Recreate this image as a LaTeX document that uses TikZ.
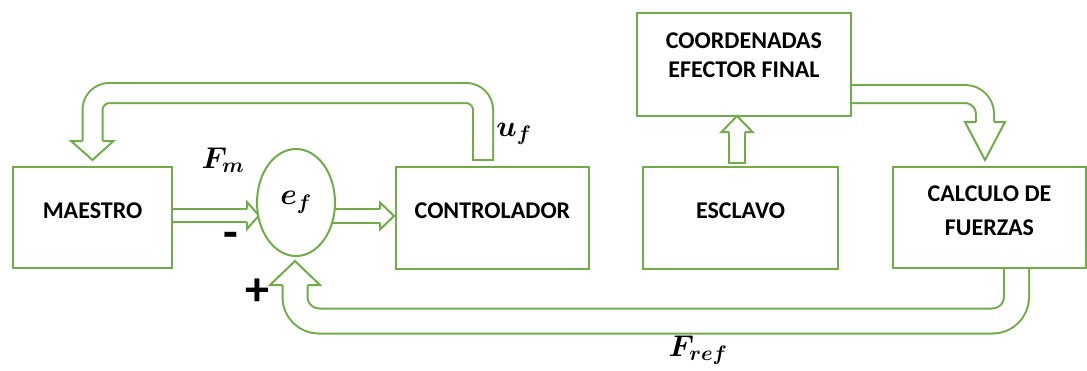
\RequirePackage{fix-cm}
\documentclass[tikz,border=0pt]{standalone}
\usepackage[no-math]{fontspec}
\setmainfont{Carlito}
\usepackage{amsmath,bm}
\usetikzlibrary{calc,shapes.geometric,backgrounds}
\definecolor{leaf}{HTML}{70AD47}

\tikzset{
  blk/.style={draw=leaf, line width=2pt, fill=white, align=center,
    font=\fontsize{24}{29}\selectfont\bfseries, text depth=14pt},
  sumnode/.style={ellipse, draw=leaf, line width=2pt, fill=white,
    font=\fontsize{30}{34}\selectfont, inner sep=0pt},
  mathlbl/.style={font=\fontsize{30}{34}\selectfont, inner sep=0pt},
  signlbl/.style={font=\fontsize{48}{50}\selectfont\bfseries, inner sep=0pt},
  shaft/.style={draw=leaf, line width=2pt, double=white, line cap=butt},
  headtip/.style={draw=leaf, fill=white, line width=2pt, line join=miter},
  tailcap/.style={draw=leaf, line width=2pt, line cap=rect},
}

\begin{document}
\begin{tikzpicture}[x=1pt, y=-1pt]
\useasboundingbox (0,0) rectangle (1087,370);

% blocks
\node[blk, minimum width=159pt, minimum height=101pt] (maestro) at (92.5,217.5) {MAESTRO};
\node[sumnode, minimum width=78pt, minimum height=107pt] (ef) at (296,202.5) {$\bm{e_f}$};
\node[blk, minimum width=193pt, minimum height=102pt] (ctrl) at (492.5,217.5) {CONTROLADOR};
\node[blk, minimum width=195pt, minimum height=102pt] (slave) at (740.5,218) {ESCLAVO};
\node[blk, minimum width=214pt, minimum height=103pt, text depth=19pt] (coord) at (744,64.5) {COORDENADAS\\EFECTOR FINAL};
\node[blk, minimum width=193pt, minimum height=101pt, text depth=13pt,
      font=\fontsize{24}{34}\selectfont\bfseries] (forces) at (989.5,217.5) {CALCULO DE\\FUERZAS};

% signal labels
\node[mathlbl] (fm) at (223,160) {$\bm{F_m}$};
\node[mathlbl] (uf) at (514,134) {$\bm{u_f}$};
\node[mathlbl] (fref) at (698,350) {$\bm{F_{ref}}$};
\node[signlbl] (minus) at (231,240) {-};
\node[signlbl] (plus) at (257,292) {+};

% reference points of the hollow arrows
\coordinate (a1t) at ($(maestro.east)+(0,-2)$);
\coordinate (a2h) at ($(ctrl.west)+(-1,-1.5)$);
\coordinate (a3t) at ($(ctrl.north)+(-9.5,-5.5)$);
\coordinate (a3h) at ($(maestro.north)+(0,-6)$);
\coordinate (a3c) at ($(a3t)+(0,-67)$);
\coordinate (a4h) at ($(coord.south)+(-7,-1)$);
\coordinate (a4t) at ($(a4h)+(0,47)$);
\coordinate (a5t) at ($(coord.east)+(0,29.5)$);
\coordinate (a5h) at ($(forces.north)+(-4.5,-6)$);
\coordinate (a6t) at ($(forces.south)+(27,0)$);
\coordinate (a6h) at ($(ef.south)+(-1,4)$);
\coordinate (a6c) at ($(a6t)+(0,52)$);

\begin{scope}[on background layer]
  \fill[white] (0,0) rectangle (1087,370);
  % MAESTRO -> e_f
  \draw[shaft, double distance=11pt] (a1t) -- ($(a1t)+(74,0)$);
  \filldraw[headtip] ($(a1t)+(74,-6.5)$) -- ($(a1t)+(74,-13.5)$) -- ($(a1t)+(86,0)$)
     -- ($(a1t)+(74,13.5)$) -- ($(a1t)+(74,6.5)$);
  % e_f -> CONTROLADOR
  \draw[shaft, double distance=12pt] (ef.center |- a2h) -- ($(a2h)+(-14,0)$);
  \filldraw[headtip] ($(a2h)+(-14,-7)$) -- ($(a2h)+(-14,-13.5)$) -- (a2h)
     -- ($(a2h)+(-14,13.5)$) -- ($(a2h)+(-14,7)$);
  % u_f : CONTROLADOR -> MAESTRO
  \draw[shaft, double distance=18pt, rounded corners=17pt]
     (a3t) -- (a3c) -- (a3c -| a3h) -- ($(a3h)+(0,-19)$);
  \draw[tailcap] ($(a3t)+(-10,0)$) -- ($(a3t)+(10,0)$);
  \filldraw[headtip] ($(a3h)+(-10,-19)$) -- ($(a3h)+(-21.5,-19)$) -- (a3h)
     -- ($(a3h)+(21,-19)$) -- ($(a3h)+(10,-19)$);
  % ESCLAVO -> COORDENADAS
  \draw[shaft, double distance=14pt] (a4t) -- ($(a4h)+(0,16)$);
  \draw[tailcap] ($(a4t)+(-8,0)$) -- ($(a4t)+(8,0)$);
  \filldraw[headtip] ($(a4h)+(-8,16)$) -- ($(a4h)+(-15.5,16)$) -- (a4h)
     -- ($(a4h)+(15.5,16)$) -- ($(a4h)+(8,16)$);
  % COORDENADAS -> CALCULO DE FUERZAS
  \draw[shaft, double distance=16pt, rounded corners=20pt]
     (a5t) -- (a5t -| a5h) -- ($(a5h)+(0,-38)$);
  \filldraw[headtip] ($(a5h)+(-9,-38)$) -- ($(a5h)+(-20,-38)$) -- (a5h)
     -- ($(a5h)+(20,-38)$) -- ($(a5h)+(9,-38)$);
  % F_ref : CALCULO DE FUERZAS -> e_f
  \draw[shaft, double distance=23pt, rounded corners=24pt]
     (a6t) -- (a6c) -- (a6c -| a6h) -- ($(a6h)+(0,24)$);
  \filldraw[headtip] ($(a6h)+(-12.5,24)$) -- ($(a6h)+(-25,24)$) -- (a6h)
     -- ($(a6h)+(25,24)$) -- ($(a6h)+(12.5,24)$);
\end{scope}
\end{tikzpicture}
\end{document}
